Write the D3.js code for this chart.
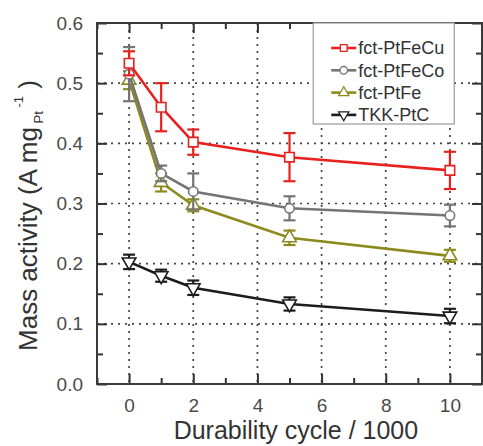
<!DOCTYPE html>
<html>
<head>
<meta charset="utf-8">
<script src="https://cdn.jsdelivr.net/npm/d3@7"></script>
<style>
  html, body { margin: 0; padding: 0; background: #fff; }
  svg { display: block; font-family: "Liberation Sans", Arial, sans-serif; }
</style>
</head>
<body>
<div id="chart"></div>
<script>
'use strict';

// Data
const cycles = [0, 1, 2, 5, 10];
const seriesNames = ["fct-PtFeCu", "fct-PtFeCo", "fct-PtFe", "TKK-PtC"];
const ptFeCu = [0.533, 0.46, 0.402, 0.377, 0.355];
const ptFeCuErr = [0.02, 0.04, 0.021, 0.04, 0.031];
const ptFeCo = [0.515, 0.35, 0.32, 0.292, 0.28];
const ptFeCoErr = [0.045, 0.013, 0.03, 0.02, 0.018];
const ptFe = [0.505, 0.335, 0.297, 0.243, 0.213];
const ptFeErr = [0.015, 0.015, 0.01, 0.012, 0.01];
const tkkPtC = [0.203, 0.18, 0.16, 0.133, 0.113];
const tkkPtCErr = [0.012, 0.01, 0.012, 0.011, 0.012];
const yTicks = [0, 0.1, 0.2, 0.3, 0.4, 0.5, 0.6];
const xTicks = [0, 2, 4, 6, 8, 10];

const colors = ["#e8201e", "#747474", "#8c8a1e", "#1c1c1c"];
const symbols = [d3.symbolSquare, d3.symbolCircle, d3.symbolTriangle, "down"];

const series = [
    { name: seriesNames[0], values: ptFeCu, err: ptFeCuErr },
    { name: seriesNames[1], values: ptFeCo, err: ptFeCoErr },
    { name: seriesNames[2], values: ptFe, err: ptFeErr },
    { name: seriesNames[3], values: tkkPtC, err: tkkPtCErr }
].map((s, i) => ({ ...s, color: colors[i], symbol: symbols[i] }));

const width = 483, height = 446;
const margin = { top: 23, right: 1, bottom: 62, left: 97 };
const innerW = width - margin.left - margin.right;
const innerH = height - margin.top - margin.bottom;

const svg = d3.select("#chart").append("svg")
    .attr("width", width)
    .attr("height", height);

const chart = svg.append("g")
    .attr("transform", `translate(${margin.left},${margin.top})`);

const x = d3.scaleLinear().domain([-1, 11]).range([0, innerW]);
const y = d3.scaleLinear().domain([0, 0.6]).range([innerH, 0]);

// Grid (dotted)
const grid = chart.append("g").classed("grid", true)
    .attr("stroke", "#444")
    .attr("stroke-width", 1.7)
    .attr("stroke-dasharray", "2 5");

grid.selectAll(".gx").data(xTicks).join("line")
    .attr("x1", d => x(d)).attr("x2", d => x(d))
    .attr("y1", 0).attr("y2", innerH);

grid.selectAll(".gy").data(yTicks.filter(d => d > 0 && d < 0.6)).join("line")
    .attr("x1", 0).attr("x2", innerW)
    .attr("y1", d => y(d)).attr("y2", d => y(d));

// Axes with inward ticks
const yMinor = d3.range(0.05, 0.6, 0.1);
const xMinor = [-1, 1, 3, 5, 7, 9, 11];

chart.append("g").classed("axis axis-y", true)
    .call(d3.axisLeft(y).tickValues(yTicks).tickFormat(d3.format(".1f"))
        .tickSizeInner(-10).tickSizeOuter(0).tickPadding(14));

chart.append("g").classed("axis axis-x", true)
    .attr("transform", `translate(0,${innerH})`)
    .call(d3.axisBottom(x).tickValues(xTicks).tickFormat(d3.format("d"))
        .tickSizeInner(-10).tickSizeOuter(0).tickPadding(15));

chart.append("g").classed("axis", true)
    .attr("transform", `translate(${innerW},0)`)
    .call(d3.axisRight(y).tickValues(yTicks).tickFormat("")
        .tickSizeInner(-10).tickSizeOuter(0));

chart.append("g").classed("axis", true)
    .call(d3.axisTop(x).tickValues(xTicks).tickFormat("")
        .tickSizeInner(-10).tickSizeOuter(0));

chart.append("g").call(d3.axisLeft(y).tickValues(yMinor).tickFormat("").tickSizeInner(-6).tickSizeOuter(0));
chart.append("g").attr("transform", `translate(${innerW},0)`)
    .call(d3.axisRight(y).tickValues(yMinor).tickFormat("").tickSizeInner(-6).tickSizeOuter(0));
chart.append("g").attr("transform", `translate(0,${innerH})`)
    .call(d3.axisBottom(x).tickValues(xMinor).tickFormat("").tickSizeInner(-6).tickSizeOuter(0));
chart.append("g")
    .call(d3.axisTop(x).tickValues(xMinor).tickFormat("").tickSizeInner(-6).tickSizeOuter(0));

chart.selectAll(".tick line").attr("stroke", "#333").attr("stroke-width", 2);
chart.selectAll(".domain").remove();

chart.selectAll(".axis-y text, .axis-x text")
    .attr("fill", "#4a4a4a")
    .attr("font-size", 19)
    .attr("font-family", "'Liberation Sans', Arial, sans-serif");

// Frame
chart.append("rect")
    .attr("width", innerW).attr("height", innerH)
    .attr("fill", "none")
    .attr("stroke", "#3a3a3a")
    .attr("stroke-width", 2);

// Legend box
const legend = chart.append("g").classed("legend", true)
    .attr("transform", `translate(${x(5.74)},0)`);

legend.append("rect")
    .attr("x", 0).attr("y", 0)
    .attr("width", 141).attr("height", 101)
    .attr("fill", "#fff")
    .attr("stroke", "#9a9a9a")
    .attr("stroke-width", 1.2);

const markerPath = (s, size) => {
    if (s.symbol === "down") {
        return d3.symbol(d3.symbolTriangle, size)();
    }
    return d3.symbol(s.symbol, size)();
};

const markerSize = s => s.symbol === d3.symbolCircle ? 70 : (s.symbol === d3.symbolSquare ? 90 : 80);

// Series
const line = d3.line()
    .x((d, i) => x(cycles[i]))
    .y(d => y(d));

const layers = chart.append("g").classed("series", true);

[...series].reverse().forEach(s => {
    const g = layers.append("g");

    g.append("path")
        .datum(s.values)
        .attr("d", line)
        .attr("fill", "none")
        .attr("stroke", s.color)
        .attr("stroke-width", 2.6);

    const pts = s.values.map((v, i) => ({ x: cycles[i], v, e: s.err[i] }));

    const eb = g.selectAll(".err").data(pts).join("g")
        .attr("stroke", s.color)
        .attr("stroke-width", 2.2);
    eb.append("line")
        .attr("x1", d => x(d.x)).attr("x2", d => x(d.x))
        .attr("y1", d => y(d.v + d.e)).attr("y2", d => y(d.v - d.e));
    eb.append("line")
        .attr("x1", d => x(d.x) - 6).attr("x2", d => x(d.x) + 6)
        .attr("y1", d => y(d.v + d.e)).attr("y2", d => y(d.v + d.e));
    eb.append("line")
        .attr("x1", d => x(d.x) - 6).attr("x2", d => x(d.x) + 6)
        .attr("y1", d => y(d.v - d.e)).attr("y2", d => y(d.v - d.e));

    g.selectAll(".pt").data(pts).join("path")
        .attr("d", markerPath(s, markerSize(s)))
        .attr("transform", d => `translate(${x(d.x)},${y(d.v)})${s.symbol === "down" ? " rotate(180)" : ""}`)
        .attr("fill", "#fff")
        .attr("stroke", s.color)
        .attr("stroke-width", 1.6);
});

// Legend entries
const rows = legend.selectAll(".row").data(series).join("g")
    .attr("transform", (d, i) => `translate(0,${25 + i * 22.3})`);

rows.append("line")
    .attr("x1", 18).attr("x2", 43)
    .attr("y1", 0).attr("y2", 0)
    .attr("stroke", d => d.color)
    .attr("stroke-width", 2.6);

rows.append("path")
    .attr("d", d => markerPath(d, 45))
    .attr("transform", d => `translate(30.5,0)${d.symbol === "down" ? " rotate(180)" : ""}`)
    .attr("fill", "#fff")
    .attr("stroke", d => d.color)
    .attr("stroke-width", 1.3);

rows.append("text")
    .attr("x", 45)
    .attr("y", 0)
    .attr("dy", "0.35em")
    .attr("font-size", 18)
    .attr("fill", "#333")
    .text(d => d.name);

// Axis titles
svg.append("text")
    .attr("x", margin.left + x(5.2))
    .attr("y", 439)
    .attr("text-anchor", "middle")
    .attr("font-size", 25)
    .attr("fill", "#333")
    .text("Durability cycle / 1000");

const yTitle = svg.append("text")
    .attr("transform", `translate(37,${margin.top + y(0.28)}) rotate(-90)`)
    .attr("text-anchor", "middle")
    .attr("font-size", 26)
    .attr("fill", "#333");

yTitle.append("tspan").text("Mass activity (A mg");
yTitle.append("tspan").attr("font-size", 13).attr("dy", 6).text(" Pt");
yTitle.append("tspan").attr("font-size", 13).attr("dy", -20).text(" -1");
yTitle.append("tspan").attr("dy", 14).text(" )");
</script>
</body>
</html>
